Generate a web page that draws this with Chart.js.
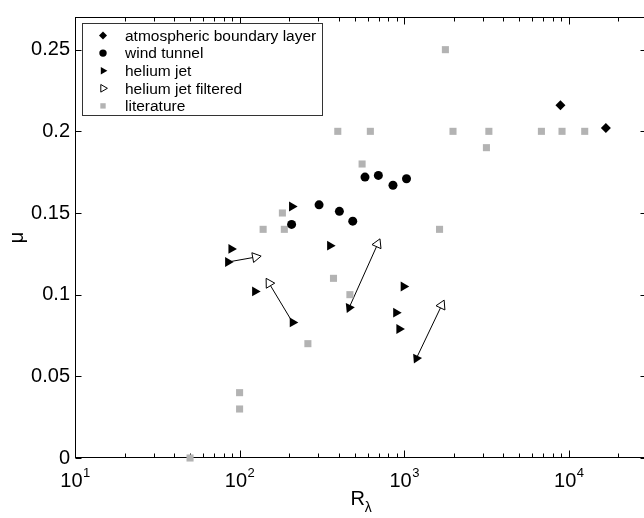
<!DOCTYPE html>
<html>
<head>
<meta charset="utf-8">
<title>mu vs R_lambda</title>
<script src="https://cdn.jsdelivr.net/npm/chart.js@4.4.1/dist/chart.umd.min.js"></script>
<style>
  html, body { margin: 0; padding: 0; background: #fff; overflow: hidden; }
  canvas { display: block; }
</style>
</head>
<body>
<canvas id="mu-chart" width="654" height="518"></canvas>
<script>
// values (x = R_lambda, y = mu)
const atmosphericX = [8900, 16800];
const atmosphericY = [0.216, 0.202];

const windTunnelX = [207, 304, 404, 487, 578, 697, 855, 1033];
const windTunnelY = [0.143, 0.155, 0.151, 0.145, 0.172, 0.173, 0.167, 0.171];

const heliumJetX = [85, 89, 124, 208, 210, 354, 463, 892, 933, 991, 1186];
const heliumJetY = [0.120, 0.128, 0.102, 0.154, 0.083, 0.130, 0.092, 0.089, 0.079, 0.105, 0.061];

const filteredX = [125, 151, 690, 1690];
const filteredY = [0.123, 0.107, 0.131, 0.0935];
// helium jet point each filtered value belongs to
const filteredFrom = [0, 4, 6, 10];
// on these pairs the arrow head sits on the helium jet marker
const headOnJet = [false, false, true, true];

const literatureX = [50, 100, 100, 139, 182, 187, 260, 372, 395, 468, 555, 623, 1640, 1780, 1980, 3160, 3270, 6820, 9100, 12500];
const literatureY = [0, 0.03, 0.04, 0.14, 0.15, 0.14, 0.07, 0.11, 0.2, 0.1, 0.18, 0.2, 0.14, 0.25, 0.2, 0.19, 0.2, 0.2, 0.2, 0.2];

const yTicks = [0, 0.05, 0.1, 0.15, 0.2, 0.25];
const xDecades = [1, 2, 3, 4];

const FONT = "'Liberation Sans', Arial, Helvetica, sans-serif";

const toPoints = (xs, ys) => xs.map((x, i) => ({ x, y: ys[i] }));

// angle (deg) for a triangle pointing from (x0,y0) towards (x1,y1)
function headAngle(chart, x0, y0, x1, y1) {
  const sx = chart.scales.x, sy = chart.scales.y;
  const dx = sx.getPixelForValue(x1) - sx.getPixelForValue(x0);
  const dy = sy.getPixelForValue(y1) - sy.getPixelForValue(y0);
  return Math.atan2(dy, dx) * 180 / Math.PI + 90;
}

const jetRotation = ctx => {
  if (ctx.type !== 'data') return 90;
  const k = filteredFrom.indexOf(ctx.dataIndex);
  if (k < 0 || !headOnJet[k]) return 90;
  const i = ctx.dataIndex;
  return headAngle(ctx.chart, filteredX[k], filteredY[k], heliumJetX[i], heliumJetY[i]);
};

const filteredRotation = ctx => {
  if (ctx.type !== 'data') return 90;
  const k = ctx.dataIndex, i = filteredFrom[k];
  return headAngle(ctx.chart, heliumJetX[i], heliumJetY[i], filteredX[k], filteredY[k]);
};

const arrowSets = filteredFrom.map((i, k) => ({
  data: [{ x: heliumJetX[i], y: heliumJetY[i] }, { x: filteredX[k], y: filteredY[k] }],
  showLine: true,
  borderColor: '#000',
  borderWidth: 1,
  pointRadius: 0,
  clip: false
}));

// box, inward ticks, x labels with exponents, x title with subscript
const framePlugin = {
  id: 'frame',
  beforeDatasetsDraw(chart) {
    const { ctx, chartArea: a, scales: { x, y } } = chart;
    const L = Math.round(a.left) + 0.5, R = Math.round(a.right) - 0.5;
    const T = Math.round(a.top) + 0.5, B = Math.round(a.bottom) - 0.5;
    ctx.save();
    ctx.strokeStyle = '#000';
    ctx.lineWidth = 1;
    ctx.strokeRect(L, T, R - L, B - T);
    ctx.beginPath();
    yTicks.forEach(v => {
      const py = Math.round(y.getPixelForValue(v)) + 0.5;
      ctx.moveTo(L, py); ctx.lineTo(L + 6, py);
      ctx.moveTo(R, py); ctx.lineTo(R - 6, py);
    });
    for (let d = x.min; d < x.max; d *= 10) {
      for (let k = 1; k <= 9; k++) {
        const v = k * d;
        if (v > x.max) break;
        const px = Math.round(x.getPixelForValue(v)) + 0.5;
        const len = k === 1 ? 7 : 4;
        ctx.moveTo(px, B); ctx.lineTo(px, B - len);
        ctx.moveTo(px, T); ctx.lineTo(px, T + len);
      }
    }
    ctx.stroke();
    ctx.restore();
  },
  afterDraw(chart) {
    const { ctx, chartArea: a, scales: { x } } = chart;
    ctx.save();
    ctx.fillStyle = '#000';
    ctx.textBaseline = 'alphabetic';
    ctx.textAlign = 'left';
    xDecades.forEach(e => {
      const px = x.getPixelForValue(Math.pow(10, e));
      ctx.font = '20px ' + FONT;
      const w1 = ctx.measureText('10').width;
      ctx.font = '13px ' + FONT;
      const w2 = ctx.measureText(String(e)).width;
      const x0 = px - (w1 + w2) / 2;
      ctx.font = '20px ' + FONT;
      ctx.fillText('10', x0, a.bottom + 29);
      ctx.font = '13px ' + FONT;
      ctx.fillText(String(e), x0 + w1 + 0.5, a.bottom + 19);
    });
    // x axis title R with subscript lambda
    ctx.font = '20px ' + FONT;
    const wr = ctx.measureText('R').width;
    ctx.font = '14px ' + FONT;
    const wl = ctx.measureText('\u03bb').width;
    const cx = (a.left + a.right) / 2 - (wr + wl) / 2;
    ctx.font = '20px ' + FONT;
    ctx.fillText('R', cx, a.bottom + 47);
    ctx.font = '14px ' + FONT;
    ctx.fillText('\u03bb', cx + wr, a.bottom + 54);
    ctx.restore();
  }
};

// legend in a framed box at the upper left of the axes
const boxLegend = {
  id: 'boxLegend',
  afterDraw(chart) {
    const { ctx, chartArea: a } = chart;
    const left = Math.round(a.left) + 7, top = Math.round(a.top) + 6;
    const items = chart.data.datasets.filter(d => d.label);
    ctx.save();
    ctx.fillStyle = '#fff';
    ctx.fillRect(left, top, 241, 93);
    ctx.strokeStyle = '#333';
    ctx.lineWidth = 1;
    ctx.strokeRect(left + 0.5, top + 0.5, 240, 92);
    items.forEach((d, i) => {
      const cy = top + 12.5 + i * 17.6;
      ctx.fillStyle = d.pointBackgroundColor;
      ctx.strokeStyle = d.pointBorderColor;
      ctx.lineWidth = d.pointBorderWidth || 0;
      Chart.helpers.drawPoint(ctx, {
        pointStyle: d.pointStyle,
        radius: d.legendRadius,
        rotation: d.pointStyle === 'triangle' ? 90 : 0,
        borderWidth: d.pointBorderWidth || 0
      }, left + 21, cy);
      ctx.fillStyle = '#000';
      ctx.font = '15.5px ' + FONT;
      ctx.textBaseline = 'middle';
      ctx.fillText(d.label, left + 43, cy + 1);
    });
    ctx.restore();
  }
};

new Chart(document.getElementById('mu-chart'), {
  type: 'scatter',
  data: {
    datasets: [
      {
        label: 'atmospheric boundary layer',
        data: toPoints(atmosphericX, atmosphericY),
        pointStyle: 'rectRot', pointRadius: 5, legendRadius: 4,
        pointBackgroundColor: '#000', pointBorderColor: '#000', pointBorderWidth: 0,
        clip: false
      },
      {
        label: 'wind tunnel',
        data: toPoints(windTunnelX, windTunnelY),
        pointStyle: 'circle', pointRadius: 4.5, legendRadius: 3.7,
        pointBackgroundColor: '#000', pointBorderColor: '#000', pointBorderWidth: 0,
        clip: false
      },
      {
        label: 'helium jet',
        data: toPoints(heliumJetX, heliumJetY),
        pointStyle: 'triangle', pointRadius: 5.7, legendRadius: 4.4,
        pointRotation: jetRotation,
        pointBackgroundColor: '#000', pointBorderColor: '#000', pointBorderWidth: 0,
        clip: false
      },
      {
        label: 'helium jet filtered',
        data: toPoints(filteredX, filteredY),
        pointStyle: 'triangle', pointRadius: 5.7, legendRadius: 4.4,
        pointRotation: filteredRotation,
        pointBackgroundColor: '#fff', pointBorderColor: '#000', pointBorderWidth: 1,
        clip: false
      },
      {
        label: 'literature',
        data: toPoints(literatureX, literatureY),
        pointStyle: 'rect', pointRadius: 5, legendRadius: 3.8,
        pointBackgroundColor: '#b3b3b3', pointBorderColor: '#b3b3b3', pointBorderWidth: 0,
        clip: false
      },
      ...arrowSets
    ]
  },
  options: {
    responsive: false,
    animation: false,
    events: [],
    layout: { padding: { top: 4, right: 4, bottom: 0, left: 0 } },
    plugins: {
      legend: { display: false },
      tooltip: { enabled: false }
    },
    scales: {
      x: {
        type: 'logarithmic',
        min: 10,
        max: 30000,
        grid: { display: false, drawTicks: false },
        border: { display: false },
        ticks: { display: false },
        afterFit: s => { s.height = 60; }
      },
      y: {
        min: 0,
        max: 0.27,
        grid: { display: false, drawTicks: false },
        border: { display: false },
        ticks: {
          stepSize: 0.05,
          includeBounds: false,
          padding: 5,
          color: '#000',
          font: { family: FONT, size: 20 },
          callback: v => String(+v.toFixed(2))
        },
        title: {
          display: true,
          text: '\u03bc',
          color: '#000',
          font: { family: FONT, size: 20 },
          padding: { top: 5, bottom: 0 }
        },
        afterFit: s => { s.width = 75; }
      }
    }
  },
  plugins: [framePlugin, boxLegend]
});
</script>
</body>
</html>
